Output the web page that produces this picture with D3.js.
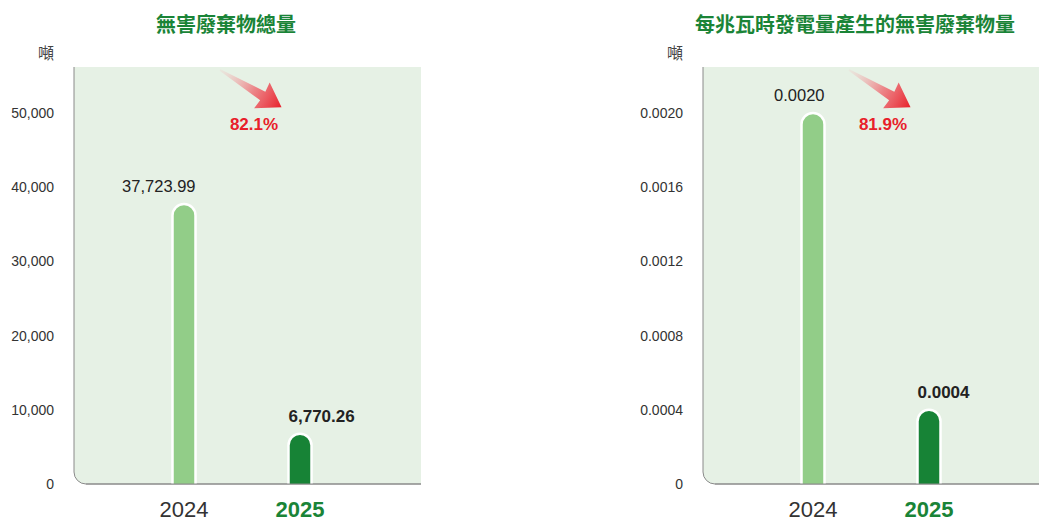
<!DOCTYPE html>
<html><head><meta charset="utf-8">
<script src="https://cdn.jsdelivr.net/npm/d3@7"></script>
<style>
html,body{margin:0;padding:0;background:#fff;overflow:hidden}
svg{display:block}
text{font-family:"Liberation Sans",Arial,Helvetica,sans-serif}
.cjk{font-family:"Noto Sans CJK TC","Noto Sans CJK SC",sans-serif}
</style></head>
<body>
<svg id="c" width="1039" height="522"></svg>
<script>
const years = ["2024", "2025"];
const totalValues = [37723.99, 6770.26];
const totalLabels = ["37,723.99", "6,770.26"];
const totalTicks = [0, 10000, 20000, 30000, 40000, 50000];
const intensityValues = [0.0020, 0.0004];
const intensityLabels = ["0.0020", "0.0004"];
const intensityTicks = [0, 0.0004, 0.0008, 0.0012, 0.0016, 0.0020];
const titles = ["無害廢棄物總量", "每兆瓦時發電量產生的無害廢棄物量"];
const unit = "噸";
const reductions = ["82.1%", "81.9%"];

const svg = d3.select("#c");
const defs = svg.append("defs");
const grad = defs.append("linearGradient").attr("id","ag")
  .attr("x1","0").attr("y1","0").attr("x2","1").attr("y2","0");
grad.append("stop").attr("offset","0").attr("stop-color","#f4b6b8").attr("stop-opacity",0.15);
grad.append("stop").attr("offset","0.55").attr("stop-color","#ee6068").attr("stop-opacity",0.75);
grad.append("stop").attr("offset","1").attr("stop-color","#e8202a");

const PW = 347, PTOP = 67, PBOT = 484, R = 12;
const barW = 23;

function drawChart(ox, values, labels, ticks, fmt, title, titleX, pct) {
  const g = svg.append("g").attr("transform", `translate(${ox},0)`);
  const y = d3.scaleLinear().domain([0, ticks[ticks.length-1]]).range([PBOT, 113]);
  const x = d3.scalePoint().domain(years).range([110, 226]);

  g.append("path")
    .attr("d", `M0,${PTOP}H${PW}V${PBOT}H${R}A${R},${R} 0 0 1 0,${PBOT-R}Z`)
    .attr("fill", "#e6f1e5");
  g.append("path")
    .attr("d", `M0,${PTOP}V${PBOT-R}A${R},${R} 0 0 0 ${R},${PBOT}H${PW}`)
    .attr("fill", "none").attr("stroke", "#8a8a8a").attr("stroke-width", 1);

  const ax = g.append("g").attr("transform", "translate(-20,0)")
    .call(d3.axisLeft(y).tickValues(ticks).tickFormat(d => d === 0 ? "0" : fmt(d)).tickSize(0).tickPadding(0));
  ax.select(".domain").remove();
  ax.selectAll("text").attr("font-size", 14).attr("fill", "#333")
    .attr("font-family", '"Liberation Sans",Arial,sans-serif');

  g.append("text").attr("class","cjk").attr("x", -20).attr("y", 59)
    .attr("text-anchor","end").attr("font-size", 16).attr("fill","#444").text(unit);

  svg.append("text").attr("class","cjk").attr("x", titleX).attr("y", 32)
    .attr("text-anchor","middle").attr("font-size", 20).attr("font-weight", 700)
    .attr("fill","#1a8437").text(title);

  const colors = ["#92cd88", "#178336"];
  years.forEach((yr, i) => {
    const cx = x(yr), yt = y(values[i]), h = barW/2;
    g.append("path")
      .attr("d", `M${cx-h},${PBOT}V${yt+h}A${h},${h} 0 0 1 ${cx+h},${yt+h}V${PBOT}`)
      .attr("fill", colors[i]).attr("stroke", "#fff").attr("stroke-width", 2.5);
    g.append("text")
      .attr("x", i === 0 ? cx + h : cx - h)
      .attr("y", yt - 12)
      .attr("text-anchor", i === 0 ? "end" : "start")
      .attr("font-size", i === 0 ? 16.5 : 17)
      .attr("font-weight", i === 0 ? 400 : 700)
      .attr("fill", "#222").text(labels[i]);
    g.append("text").attr("x", cx).attr("y", 517).attr("text-anchor","middle")
      .attr("font-size", 22).attr("font-weight", i === 0 ? 400 : 700)
      .attr("fill", i === 0 ? "#333" : "#1a8437").text(yr);
  });
  g.append("line").attr("x1", R).attr("x2", PW).attr("y1", PBOT).attr("y2", PBOT)
    .attr("stroke", "#8a8a8a").attr("stroke-width", 1);

  const ang = Math.atan2(37, 61) * 180 / Math.PI;
  const a = g.append("g").attr("transform", `translate(146,70) rotate(${ang})`);
  a.append("path")
    .attr("d", "M0,-0.8 L50,-5 L49,-15 L72,0 L49,15 L50,5 L0,0.8Z")
    .attr("fill", "url(#ag)");

  g.append("text").attr("x", 180).attr("y", 130).attr("text-anchor","middle")
    .attr("font-size", 17).attr("font-weight", 700).attr("fill", "#e8202a").text(pct);
}

drawChart(74, totalValues, totalLabels, totalTicks, d3.format(","), titles[0], 226, reductions[0]);
drawChart(703, intensityValues, intensityLabels, intensityTicks, d3.format(".4f"), titles[1], 855, reductions[1]);
</script>
</body></html>
